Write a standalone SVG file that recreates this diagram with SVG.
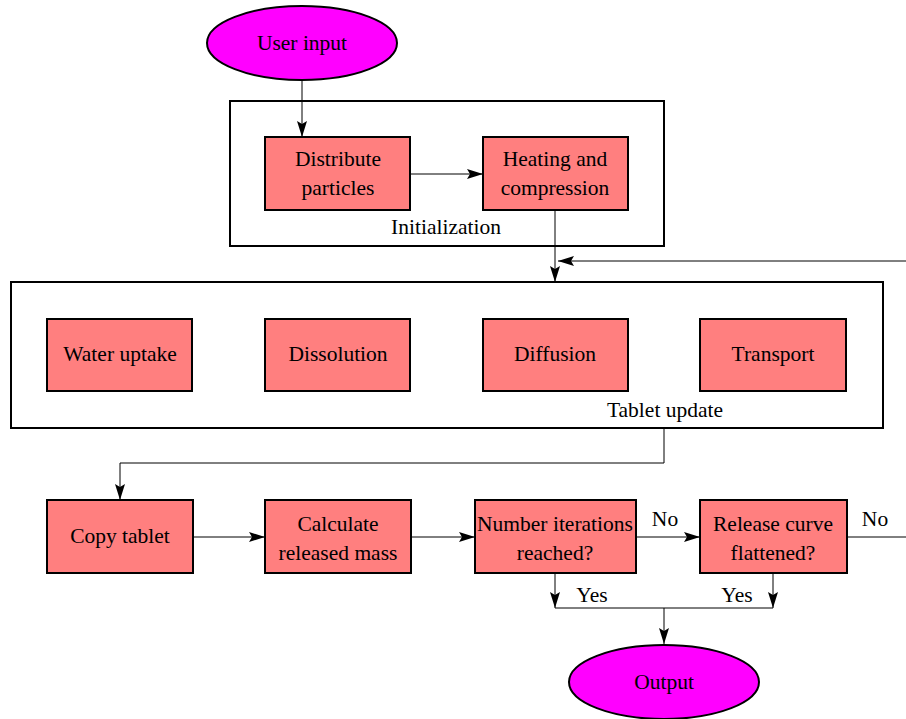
<svg xmlns="http://www.w3.org/2000/svg" width="906" height="719" viewBox="0 0 906 719">
<style>
text{font-family:"Liberation Serif","Times New Roman",serif;font-size:21.5px;fill:#000;text-anchor:middle}
.box{fill:#ff7f7f;stroke:#000;stroke-width:2}
.frame{fill:none;stroke:#000;stroke-width:2}
.ell{fill:#ff00ff;stroke:#000;stroke-width:2}
.c{fill:none;stroke:#000;stroke-width:1}
</style>
<defs>
<marker id="ah" viewBox="0 0 16 10" refX="16" refY="5" markerWidth="16" markerHeight="10" markerUnits="userSpaceOnUse" orient="auto">
<path d="M0,0 L16,5 L0,10 L3,5 Z" fill="#000"/>
</marker>
</defs>
<rect width="906" height="719" fill="#fff"/>
<g id="connectors">
<path class="c" d="M302,80 V137" marker-end="url(#ah)"/>
<path class="c" d="M410,174 H483" marker-end="url(#ah)"/>
<path class="c" d="M555,210 V282" marker-end="url(#ah)"/>
<path class="c" d="M906,261 H558" marker-end="url(#ah)"/>
<path class="c" d="M664,428 V463 H120 V500" marker-end="url(#ah)"/>
<path class="c" d="M193,537 H265" marker-end="url(#ah)"/>
<path class="c" d="M411,537 H475" marker-end="url(#ah)"/>
<path class="c" d="M636,537 H700" marker-end="url(#ah)"/>
<path class="c" d="M847,537 H906"/>
<path class="c" d="M555,573 V608" marker-end="url(#ah)"/>
<path class="c" d="M773,573 V608" marker-end="url(#ah)"/>
<path class="c" d="M555,608 H773"/>
<path class="c" d="M664,608 V644" marker-end="url(#ah)"/>
<text x="665" y="526">No</text>
<text x="875" y="526">No</text>
<text x="592" y="602">Yes</text>
<text x="737" y="602">Yes</text>
</g>
<g id="user-input">
<ellipse class="ell" cx="302" cy="43" rx="95" ry="37"/>
<text x="302" y="50">User input</text>
</g>
<g id="initialization">
<rect class="frame" x="230" y="101" width="434" height="145"/>
<text x="446" y="234">Initialization</text>
</g>
<g id="distribute-particles">
<rect class="box" x="265" y="137" width="145" height="73"/>
<text x="338" y="166">Distribute</text>
<text x="338" y="195">particles</text>
</g>
<g id="heating-compression">
<rect class="box" x="483" y="137" width="145" height="73"/>
<text x="555" y="166">Heating and</text>
<text x="555" y="195">compression</text>
</g>
<g id="tablet-update">
<rect class="frame" x="11" y="282" width="872" height="146"/>
<text x="665" y="417">Tablet update</text>
</g>
<g id="water-uptake">
<rect class="box" x="47" y="319" width="145" height="72"/>
<text x="120" y="361">Water uptake</text>
</g>
<g id="dissolution">
<rect class="box" x="265" y="319" width="145" height="72"/>
<text x="338" y="361">Dissolution</text>
</g>
<g id="diffusion">
<rect class="box" x="483" y="319" width="145" height="72"/>
<text x="555" y="361">Diffusion</text>
</g>
<g id="transport">
<rect class="box" x="700" y="319" width="146" height="72"/>
<text x="773" y="361">Transport</text>
</g>
<g id="copy-tablet">
<rect class="box" x="47" y="500" width="146" height="73"/>
<text x="120" y="543">Copy tablet</text>
</g>
<g id="calculate-released-mass">
<rect class="box" x="265" y="500" width="146" height="73"/>
<text x="338" y="531">Calculate</text>
<text x="338" y="560">released mass</text>
</g>
<g id="number-iterations">
<rect class="box" x="475" y="500" width="161" height="73"/>
<text x="555" y="531">Number iterations</text>
<text x="555" y="560">reached?</text>
</g>
<g id="release-curve">
<rect class="box" x="700" y="500" width="147" height="73"/>
<text x="773" y="531">Release curve</text>
<text x="773" y="560">flattened?</text>
</g>
<g id="output">
<ellipse class="ell" cx="664" cy="682" rx="95" ry="37"/>
<text x="664" y="689">Output</text>
</g>
</svg>
